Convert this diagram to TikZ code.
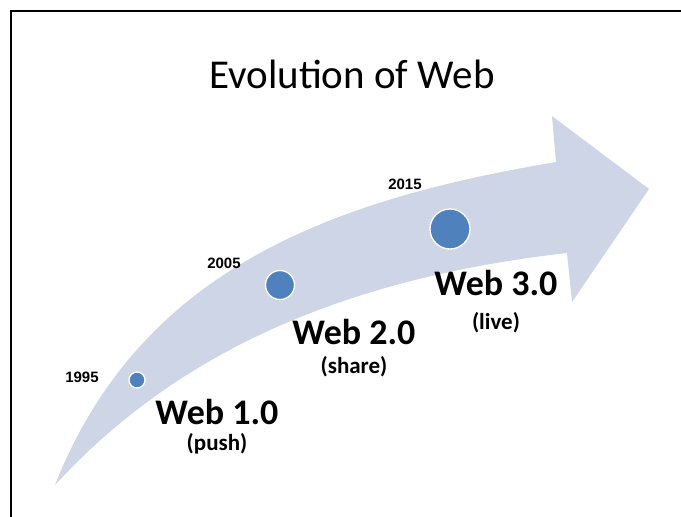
\documentclass[tikz,border=0pt]{standalone}
\usepackage{fontspec}
\setmainfont{Carlito}
\newfontfamily\yearfont{Liberation Sans}
\usepackage{tikz}
\usetikzlibrary{positioning}
\definecolor{bandgrey}{RGB}{205,213,230}
\definecolor{dotblue}{RGB}{79,129,189}

\begin{document}
\begin{tikzpicture}[x=1pt, y=-1pt,
        version/.style={inner sep=0pt, font=\fontsize{36}{40}\selectfont\bfseries},
        motto/.style={inner sep=0pt, font=\fontsize{23}{26}\selectfont\bfseries},
        year/.style={inner sep=0pt, font=\yearfont\fontsize{15}{17}\selectfont\bfseries},
        dot/.style={circle, fill=dotblue, draw=white, line width=1.3pt, inner sep=0pt}]
        \useasboundingbox (0,0) rectangle (681,517);
        % slide frame, only top and left edges show
        \draw[line width=2pt] (11,517) -- (11,11) -- (681,11);
        \node[anchor=base, inner sep=0pt, font=\fontsize{41}{46}\selectfont] (title) at (352,88) {Evolution of Web};
        % the curved arrow
        \fill[bandgrey] (55,485) .. controls (140,270) and (330,200) .. (556,162)
            -- (552,116) -- (649,189) -- (572,302) -- (567,253)
            .. controls (330,280) and (170,360) .. (55,485) -- cycle;
        % milestones
        \node[dot, minimum size=16pt] (d1) at (137,380) {};
        \node[dot, minimum size=29pt] (d2) at (280,285) {};
        \node[dot, minimum size=40pt] (d3) at (450,229) {};
        \node[year] (y1) at (82,377) {1995};
        \node[year] (y2) at (224,263) {2005};
        \node[year] (y3) at (405,184) {2015};
        \node[version] (w1) at (217,412) {Web 1.0};
        \node[motto, below=32pt of w1.center, anchor=center] (m1) {(push)};
        \node[version] (w2) at (354,332) {Web 2.0};
        \node[motto, below=35pt of w2.center, anchor=center] (m2) {(share)};
        \node[version] (w3) at (496,283) {Web 3.0};
        \node[motto, below=40pt of w3.center, anchor=center] (m3) {(live)};
\end{tikzpicture}
\end{document}
